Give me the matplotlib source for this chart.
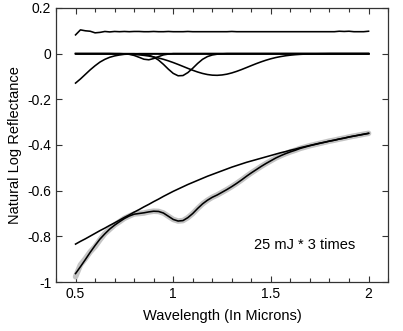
import matplotlib
matplotlib.use("Agg")
import matplotlib.pyplot as plt
from matplotlib.ticker import MultipleLocator, FuncFormatter

plt.rcParams['font.family'] = ['Liberation Sans', 'DejaVu Sans']
plt.rcParams['axes.unicode_minus'] = False

# Wavelength grid (microns)
wavelength = [0.500, 0.525, 0.550, 0.575, 0.600, 0.625, 0.650, 0.675, 0.700, 0.725,
              0.750, 0.775, 0.800, 0.825, 0.850, 0.875, 0.900, 0.925, 0.950, 0.975,
              1.000, 1.025, 1.050, 1.075, 1.100, 1.125, 1.150, 1.175, 1.200, 1.225,
              1.250, 1.275, 1.300, 1.325, 1.350, 1.375, 1.400, 1.425, 1.450, 1.475,
              1.500, 1.525, 1.550, 1.575, 1.600, 1.625, 1.650, 1.675, 1.700, 1.725,
              1.750, 1.775, 1.800, 1.825, 1.850, 1.875, 1.900, 1.925, 1.950, 1.975,
              2.000]

continuum = [-0.834, -0.822, -0.811, -0.799, -0.787, -0.775, -0.764, -0.752, -0.741, -0.729,
             -0.717, -0.706, -0.694, -0.683, -0.671, -0.660, -0.648, -0.637, -0.625, -0.614,
             -0.603, -0.593, -0.583, -0.573, -0.564, -0.555, -0.546, -0.537, -0.529, -0.521,
             -0.513, -0.505, -0.497, -0.490, -0.483, -0.476, -0.470, -0.464, -0.458, -0.452,
             -0.446, -0.440, -0.434, -0.429, -0.423, -0.418, -0.412, -0.407, -0.402, -0.397,
             -0.392, -0.388, -0.383, -0.379, -0.374, -0.370, -0.365, -0.361, -0.357, -0.353,
             -0.349]

band_uv = [-0.129, -0.111, -0.091, -0.071, -0.053, -0.037, -0.025, -0.016, -0.010, -0.006,
           -0.003, -0.002, -0.001, 0, 0, 0, 0, 0, 0, 0,
           0, 0, 0, 0, 0, 0, 0, 0, 0, 0,
           0, 0, 0, 0, 0, 0, 0, 0, 0, 0,
           0, 0, 0, 0, 0, 0, 0, 0, 0, 0,
           0, 0, 0, 0, 0, 0, 0, 0, 0, 0,
           0]

band_09 = [0, 0, 0, 0, 0, 0, 0, 0, 0, 0,
           -0.001, -0.003, -0.008, -0.016, -0.0245, -0.027, -0.0215, -0.013, -0.0055, -0.002,
           0, 0, 0, 0, 0, 0, 0, 0, 0, 0,
           0, 0, 0, 0, 0, 0, 0, 0, 0, 0,
           0, 0, 0, 0, 0, 0, 0, 0, 0, 0,
           0, 0, 0, 0, 0, 0, 0, 0, 0, 0,
           0]

band_10 = [0, 0, 0, 0, 0, 0, 0, 0, 0, 0,
           0, 0, 0, -0.001, -0.003, -0.007, -0.015, -0.0285, -0.047, -0.068,
           -0.0865, -0.097, -0.096, -0.083, -0.064, -0.043, -0.025, -0.013, -0.006, -0.0025,
           -0.001, 0, 0, 0, 0, 0, 0, 0, 0, 0,
           0, 0, 0, 0, 0, 0, 0, 0, 0, 0,
           0, 0, 0, 0, 0, 0, 0, 0, 0, 0,
           0]

band_12 = [0, 0, 0, 0, 0, 0, 0, 0, -0.0007, -0.001,
           -0.0016, -0.0025, -0.0037, -0.0054, -0.0077, -0.0107, -0.0145, -0.0192, -0.0249, -0.0316,
           -0.0391, -0.0473, -0.0559, -0.0646, -0.0729, -0.0805, -0.0868, -0.0915, -0.0943, -0.095,
           -0.0934, -0.0899, -0.0845, -0.0776, -0.0697, -0.0611, -0.0524, -0.0439, -0.036, -0.0288,
           -0.0225, -0.0172, -0.0129, -0.0094, -0.0067, -0.0047, -0.0032, -0.0021, -0.0014, -0.0009,
           -0.0006, -0.0004, 0, 0, 0, 0, 0, 0, 0, 0,
           0]

model_fit = [-0.963, -0.933, -0.902, -0.870, -0.840, -0.812, -0.789, -0.768, -0.751, -0.736,
             -0.722, -0.711, -0.703, -0.700, -0.697, -0.693, -0.690, -0.691, -0.698, -0.712,
             -0.726, -0.733, -0.731, -0.718, -0.700, -0.678, -0.658, -0.642, -0.629, -0.619,
             -0.607, -0.595, -0.582, -0.568, -0.553, -0.537, -0.522, -0.508, -0.494, -0.481,
             -0.469, -0.457, -0.447, -0.438, -0.430, -0.423, -0.415, -0.409, -0.403, -0.398,
             -0.393, -0.388, -0.383, -0.379, -0.374, -0.370, -0.365, -0.361, -0.357, -0.353,
             -0.349]

measured = [-0.977, -0.925, -0.898, -0.868, -0.845, -0.815, -0.788, -0.769, -0.750, -0.736,
            -0.721, -0.711, -0.702, -0.700, -0.698, -0.693, -0.690, -0.691, -0.698, -0.712,
            -0.726, -0.733, -0.731, -0.718, -0.700, -0.678, -0.658, -0.642, -0.629, -0.619,
            -0.607, -0.595, -0.582, -0.568, -0.553, -0.537, -0.522, -0.508, -0.494, -0.481,
            -0.469, -0.457, -0.447, -0.438, -0.430, -0.423, -0.415, -0.409, -0.403, -0.398,
            -0.393, -0.388, -0.383, -0.379, -0.374, -0.370, -0.365, -0.361, -0.357, -0.353,
            -0.349]

residual = [0.082, 0.104, 0.100, 0.098, 0.091, 0.093, 0.097, 0.095, 0.097, 0.096,
            0.097, 0.096, 0.097, 0.097, 0.096, 0.096, 0.097, 0.096, 0.096, 0.097,
            0.096, 0.096, 0.096, 0.097, 0.096, 0.096, 0.096, 0.096, 0.096, 0.096,
            0.096, 0.096, 0.097, 0.096, 0.096, 0.096, 0.096, 0.096, 0.096, 0.096,
            0.096, 0.096, 0.096, 0.096, 0.096, 0.096, 0.096, 0.096, 0.096, 0.096,
            0.096, 0.096, 0.096, 0.096, 0.098, 0.097, 0.098, 0.096, 0.096, 0.096,
            0.098]

zero_x = [0.5, 2.0]
zero_y = [0.0, 0.0]

label_text = "25 mJ * 3 times"

fig = plt.figure(figsize=(4.03, 3.31), dpi=100)
ax = fig.add_axes([0.139, 0.148, 0.824, 0.828])

lw = 1.15
ax.plot(wavelength, measured, color='#c4c4c4', lw=4.0, solid_capstyle='round', zorder=2)
ax.plot(wavelength, model_fit, color='black', lw=lw, zorder=3)
ax.plot(wavelength, continuum, color='black', lw=lw, zorder=3)
ax.plot(zero_x, zero_y, color='black', lw=lw, zorder=3)
for band in (band_uv, band_09, band_10, band_12):
    ax.plot(wavelength, band, color='black', lw=lw, zorder=3)
ax.plot(wavelength, residual, color='black', lw=lw, zorder=3)

ax.set_xlim(0.4, 2.1)
ax.set_ylim(-1.0, 0.2)
ax.xaxis.set_major_locator(MultipleLocator(0.5))
ax.xaxis.set_minor_locator(MultipleLocator(0.1))
ax.yaxis.set_major_locator(MultipleLocator(0.2))
fmt = FuncFormatter(lambda v, p: ('%g' % round(v, 3)) if abs(v) > 1e-9 else '0')
ax.xaxis.set_major_formatter(fmt)
ax.yaxis.set_major_formatter(fmt)
ax.tick_params(which='both', direction='in', top=True, right=True, labelsize=10, color='#333333')
ax.tick_params(which='major', length=4, width=0.8)
ax.tick_params(which='minor', length=3, width=0.8)
for s in ax.spines.values():
    s.set_linewidth(0.9)
    s.set_color('#333333')

ax.set_xlabel('Wavelength (In Microns)', fontsize=10.5, labelpad=6)
ax.set_ylabel('Natural Log Reflectance', fontsize=10.5, labelpad=4)
ax.text(1.672, -0.838, label_text, fontsize=10.5, ha='center', va='center')

fig.savefig('out.png', dpi=100)
